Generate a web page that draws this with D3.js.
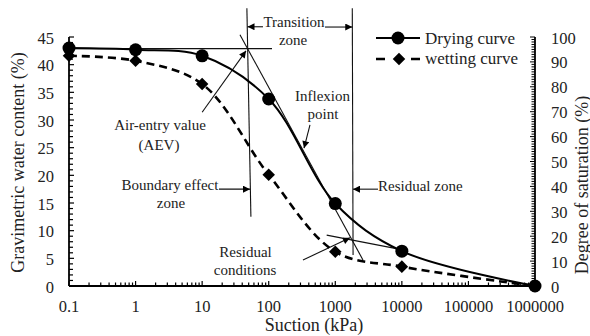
<!DOCTYPE html>
<html><head><meta charset="utf-8">
<script src="https://cdn.jsdelivr.net/npm/d3@7"></script>
<style>
html,body{margin:0;padding:0;background:#fff;}
svg{display:block;}
svg text{font-family:'Liberation Serif','Times New Roman','DejaVu Serif',serif;}
</style></head>
<body>
<svg id="chart" width="590" height="336" font-family="Liberation Serif, Times New Roman, serif"></svg>
<script>
// ---- data ----
const suction = [0.1, 1, 10, 100, 1000, 10000, 1000000];
const drying  = [43.0, 42.7, 41.6, 33.8, 14.9, 6.3, 0];
const wetting = [41.6, 40.7, 36.5, 20.1, 6.2, 3.5, 0];
const xTicks = [0.1, 1, 10, 100, 1000, 10000, 100000, 1000000];
const xTickLabels = ["0.1","1","10","100","1000","10000","100000","1000000"];
const yTicks = [0,5,10,15,20,25,30,35,40,45];
const y2Ticks = [0,10,20,30,40,50,60,70,80,90,100];
const seriesNames = ["Drying curve","wetting curve"];

// annotation geometry in data coordinates (suction kPa, water content %)
const zoneLines = [[47,50.2,54,12.5],[1800,50.2,1850,5.6]];
const guideLines = [[0.1,42.9,112,42.9],[37,45.4,2606,4.7],[743,9.2,11830,6.4]];
const arrowLines = [[10,31.4,45.6,42.5],[417,29.1,339,24.9],[17.9,17.5,52.4,17.5],
  [4385,17.5,1845,17.5],[82,46.85,48,46.85],[701,46.8,1800,46.8],[327,4.7,1663,8.7]];
const notes = [
  ["Transition",240,46.8,"middle"],["zone",232,43.56,"middle"],
  ["Air-entry value",2.33,28.2,"middle"],["(AEV)",2.25,24.58,"middle"],
  ["Inflexion",643,33.35,"middle"],["point",654,30.1,"middle"],
  ["Boundary effect",3.29,17.35,"middle"],["zone",3.40,14.1,"middle"],
  ["Residual zone",4385,17.17,"start"],
  ["Residual",44.8,5.24,"middle"],["conditions",44,1.9,"middle"]
];

// ---- scales ----
const L=69, R=535, T=37, B=286;
const x = d3.scaleLog().domain([0.1,1000000]).range([L,R]);
const y = d3.scaleLinear().domain([0,45]).range([B,T]);
const y2 = d3.scaleLinear().domain([0,100]).range([B,T]);

const svg = d3.select("#chart");
const defs = svg.append("defs");
defs.append("marker").attr("id","arr").attr("viewBox","0 0 10 10")
  .attr("refX",10).attr("refY",5).attr("markerWidth",9).attr("markerHeight",7)
  .attr("markerUnits","userSpaceOnUse").attr("orient","auto")
  .append("path").attr("d","M0,0L10,5L0,10Z").attr("fill","#000");

// ---- axes ----
const ax = svg.append("g").attr("stroke","#000").attr("fill","none");
d3.range(0,46,1).forEach(v=>{
  ax.append("line").attr("x1",L).attr("x2",L+(v%5===0?5:4)).attr("y1",y(v)).attr("y2",y(v)).attr("stroke-width",1.2);
});
d3.range(0,101,1).forEach(v=>{
  ax.append("line").attr("x1",R).attr("x2",R-(v%10===0?5:3.5)).attr("y1",y2(v)).attr("y2",y2(v)).attr("stroke-width",1);
});
for(let e=-1;e<6;e++){
  for(let m=1;m<10;m++){
    const v = m*Math.pow(10,e);
    ax.append("line").attr("x1",x(v)).attr("x2",x(v)).attr("y1",B).attr("y2",B-(m===1?5:3.5)).attr("stroke-width",1.2);
  }
}
ax.append("line").attr("x1",x(1e6)).attr("x2",x(1e6)).attr("y1",B).attr("y2",B-5).attr("stroke-width",1.2);
ax.append("line").attr("x1",L).attr("x2",L).attr("y1",T).attr("y2",B).attr("stroke-width",1.8);
ax.append("line").attr("x1",R).attr("x2",R).attr("y1",T).attr("y2",B).attr("stroke-width",1.8);
ax.append("line").attr("x1",L).attr("x2",R).attr("y1",B).attr("y2",B).attr("stroke-width",1.8);

const lab = svg.append("g").attr("fill","#222").attr("font-size","16.5px");
lab.selectAll(".yl").data(yTicks).join("text").attr("text-anchor","end")
  .attr("x",54).attr("y",d=>y(d)+6.5).text(d=>d);
lab.selectAll(".y2l").data(y2Ticks).join("text").attr("text-anchor","start")
  .attr("x",551).attr("y",d=>y2(d)+6.5).text(d=>d);
lab.selectAll(".xl").data(xTicks).join("text").attr("text-anchor","middle")
  .attr("x",d=>x(d)).attr("y",312).text((d,i)=>xTickLabels[i]);

const tl = svg.append("g").attr("fill","#222").attr("font-size","18px");
tl.append("text").attr("text-anchor","middle").attr("x",314).attr("y",331).text("Suction (kPa)");
tl.append("text").attr("text-anchor","middle").attr("transform","translate(23.5,162.5) rotate(-90)").text("Gravimetric water content (%)");
tl.append("text").attr("text-anchor","middle").attr("transform","translate(587.5,185) rotate(-90)").text("Degree of saturation (%)");

// ---- annotations ----
const an = svg.append("g").attr("stroke","#111").attr("stroke-width",1.1).attr("fill","none");
zoneLines.concat(guideLines).forEach(d=>{
  an.append("line").attr("x1",x(d[0])).attr("y1",y(d[1])).attr("x2",x(d[2])).attr("y2",y(d[3]));
});
arrowLines.forEach(d=>{
  an.append("line").attr("x1",x(d[0])).attr("y1",y(d[1])).attr("x2",x(d[2])).attr("y2",y(d[3])).attr("marker-end","url(#arr)");
});
svg.append("g").attr("fill","#222").attr("font-size","15px")
  .selectAll("text").data(notes).join("text")
  .attr("text-anchor",d=>d[3]).attr("x",d=>x(d[1])).attr("y",d=>y(d[2])).text(d=>d[0]);

// ---- series ----
const line = d3.line().x(d=>x(d[0])).y(d=>y(d[1])).curve(d3.curveCatmullRom.alpha(0.5));
const wPts = suction.map((s,i)=>[s,wetting[i]]);
const dPts = suction.map((s,i)=>[s,drying[i]]);
svg.append("path").attr("d",line(wPts)).attr("fill","none").attr("stroke","#000")
  .attr("stroke-width",2.6).attr("stroke-dasharray","8,5");
svg.append("path").attr("d",line(dPts)).attr("fill","none").attr("stroke","#000").attr("stroke-width",2);
const diamond = d3.symbol().type(d3.symbolDiamond2).size(100);
svg.selectAll(".wm").data(wPts).join("path")
  .attr("transform",d=>`translate(${x(d[0])},${y(d[1])})`).attr("d",diamond).attr("fill","#000");
svg.selectAll(".dm").data(dPts).join("circle")
  .attr("cx",d=>x(d[0])).attr("cy",d=>y(d[1])).attr("r",6.5).attr("fill","#000");

// ---- legend ----
const lg = svg.append("g");
lg.append("line").attr("x1",376).attr("x2",420).attr("y1",38).attr("y2",38).attr("stroke","#000").attr("stroke-width",2);
lg.append("circle").attr("cx",398).attr("cy",38).attr("r",6.5).attr("fill","#000");
lg.append("line").attr("x1",376).attr("x2",421).attr("y1",59).attr("y2",59).attr("stroke","#000").attr("stroke-width",2.6).attr("stroke-dasharray","9,26");
lg.append("path").attr("transform","translate(399,59)").attr("d",diamond).attr("fill","#000");
lg.selectAll("text").data(seriesNames).join("text").attr("x",425).attr("y",(d,i)=>i?63.5:43.5)
  .attr("font-size","17px").attr("fill","#222").text(d=>d);
</script>
</body></html>
